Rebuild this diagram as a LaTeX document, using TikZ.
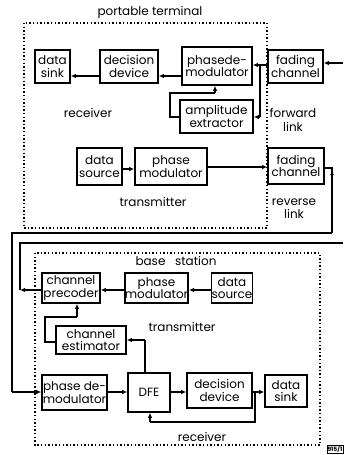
\documentclass[tikz,border=0pt]{standalone}
\usepackage{fontspec}
\setmainfont{Poppins}
\usetikzlibrary{arrows.meta,decorations.markings}
\begin{document}
\begin{tikzpicture}[x=1pt,y=-1pt,
  blk/.style={draw,line width=1.6pt,inner sep=0pt,align=center,font=\fontsize{12}{12.5}\selectfont},
  lbl/.style={inner sep=0pt,align=center,font=\fontsize{12}{13.5}\selectfont},
  con/.style={line width=1.3pt},
  arr/.style={con,-{Latex[length=5pt,width=4.5pt]}},
  dotbox/.style={line width=1.5pt,dash pattern=on 1.4pt off 2.2pt}]
\useasboundingbox (0,0) rectangle (343,455);
% portable terminal
\draw[dotbox] (24,23) rectangle (267,228);
\node[lbl] (pt) at (150,12) {portable terminal};
\node[blk,minimum width=35pt,minimum height=33pt] (sink1) at (52.5,66.5) {data\\sink};
\node[blk,minimum width=58pt,minimum height=33pt] (dec1) at (129,66.5) {decision\\device};
\node[blk,minimum width=70pt,minimum height=38pt] (pdem1) at (217,66) {phasede-\\modulator};
\node[blk,minimum width=55pt,minimum height=33pt] (fad1) at (295.5,66.5) {fading\\channel};
\node[blk,minimum width=73pt,minimum height=33pt] (amp) at (216.5,116.5) {amplitude\\extractor};
\node[blk,minimum width=45pt,minimum height=37pt] (src1) at (99.5,166.5) {data\\source};
\node[blk,minimum width=72pt,minimum height=37pt] (pmod1) at (171,166.5) {phase\\modulator};
\node[blk,minimum width=56pt,minimum height=36pt] (fad2) at (296,166) {fading\\channel};
\node[lbl] (rx1) at (88,113) {receiver};
\node[lbl] (fl) at (293,120) {forward\\link};
\node[lbl] (tx1) at (153,202) {transmitter};
\node[lbl] (rl) at (294,208.5) {reverse\\link};
% base station
\draw[dotbox] (35,253) rectangle (320,445);
\node[lbl] (bs) at (176,261) {base\ \ \ station};
\node[blk,minimum width=58pt,minimum height=30pt] (prec) at (71,288) {channel\\precoder};
\node[blk,minimum width=63pt,minimum height=30pt] (pmod2) at (156.5,288) {phase\\modulator};
\node[blk,minimum width=40pt,minimum height=30pt] (src2) at (232,288) {data\\source};
\node[blk,minimum width=70pt,minimum height=28pt] (est) at (91,340) {channel\\estimator};
\node[blk,minimum width=65pt,minimum height=35pt] (pdem2) at (74.5,392.5) {phase de-\\modulator};
\node[blk,minimum width=42pt,minimum height=39pt] (dfe) at (149,392.5) {DFE};
\node[blk,minimum width=65pt,minimum height=35pt] (dec2) at (219.5,390.5) {decision\\device};
\node[blk,minimum width=42pt,minimum height=32pt] (sink2) at (286,391) {data\\sink};
\node[lbl] (tx2) at (182,327) {transmitter};
\node[lbl] (rx2) at (202,437) {receiver};
\node[draw,line width=0.7pt,inner sep=0.7pt,font=\fontsize{6}{6}\selectfont\bfseries,anchor=west] (tag) at (326.5,449) {915/1};
% coordinates for connector corners
\coordinate (inR) at (343,63);
\coordinate (fwdR) at (343,243);
\coordinate (fwdL) at (20,243);
\coordinate (precL) at (20,290);
\coordinate (j1) at (260,65);
\coordinate (j1b) at (260,117);
\coordinate (a1) at (170,117);
\coordinate (a2) at (170,93);
\coordinate (a3) at (215,93);
\coordinate (r1) at (332,168);
\coordinate (r2) at (332,233);
\coordinate (r3) at (12,233);
\coordinate (r4) at (12,392);
\coordinate (e1) at (45,342);
\coordinate (e2) at (45,317);
\coordinate (e3) at (77,317);
\coordinate (d1) at (145,340);
\coordinate (f1) at (255,392);
\coordinate (f2) at (255,422);
\coordinate (f3) at (150,422);
% forward link connectors
\draw[arr] (inR) -- (fad1.east |- inR);
\draw[arr] (fad1.west |- j1) -- (pdem1.east |- j1);
\draw[con] (j1) -- (j1b);
\draw[arr] (j1b) -- (amp.east |- j1b);
\draw[con] (amp.west |- a1) -- (a1) -- (a2) -- (a3);
\draw[arr] (a3) -- (pdem1.south -| a3);
\draw[arr] (pdem1.west |- 0,76) -- (dec1.east |- 0,76);
\draw[arr] (dec1.west |- 0,76) -- (sink1.east |- 0,76);
% reverse link (portable transmitter)
\draw[arr] (src1.east |- 0,169) -- (pmod1.west |- 0,169);
\draw[arr] (pmod1.east |- 0,167) -- (fad2.west |- 0,167);
\draw[con,postaction={decorate},decoration={markings,mark=at position 0.25 with {\arrow{Latex[length=5pt,width=4pt]}}}] (fad2.east |- r1) -- (r1) -- (r2);
\draw[con] (r2) -- (r3) -- (r4);
\draw[arr] (r4) -- (pdem2.west |- r4);
% base station transmitter
\draw[arr] (src2.west |- 0,290) -- (pmod2.east |- 0,290);
\draw[arr] (pmod2.west |- 0,290) -- (prec.east |- 0,290);
\draw[arr] (prec.west |- precL) -- (precL);
\draw[con] (precL) -- (fwdL) -- (fwdR);
\draw[con] (est.west |- e1) -- (e1) -- (e2) -- (e3);
\draw[arr] (e3) -- (prec.south -| e3);
\draw[con] (dfe.north -| d1) -- (d1);
\draw[arr] (d1) -- (est.east |- d1);
% base station receiver
\draw[arr] (pdem2.east |- 0,392) -- (dfe.west |- 0,392);
\draw[arr] (dfe.east |- 0,392) -- (dec2.west |- 0,392);
\draw[arr] (dec2.east |- 0,392) -- (sink2.west |- 0,392);
\draw[con] (f1) -- (f2) -- (f3);
\draw[arr] (f3) -- (dfe.south -| f3);
\end{tikzpicture}
\end{document}
